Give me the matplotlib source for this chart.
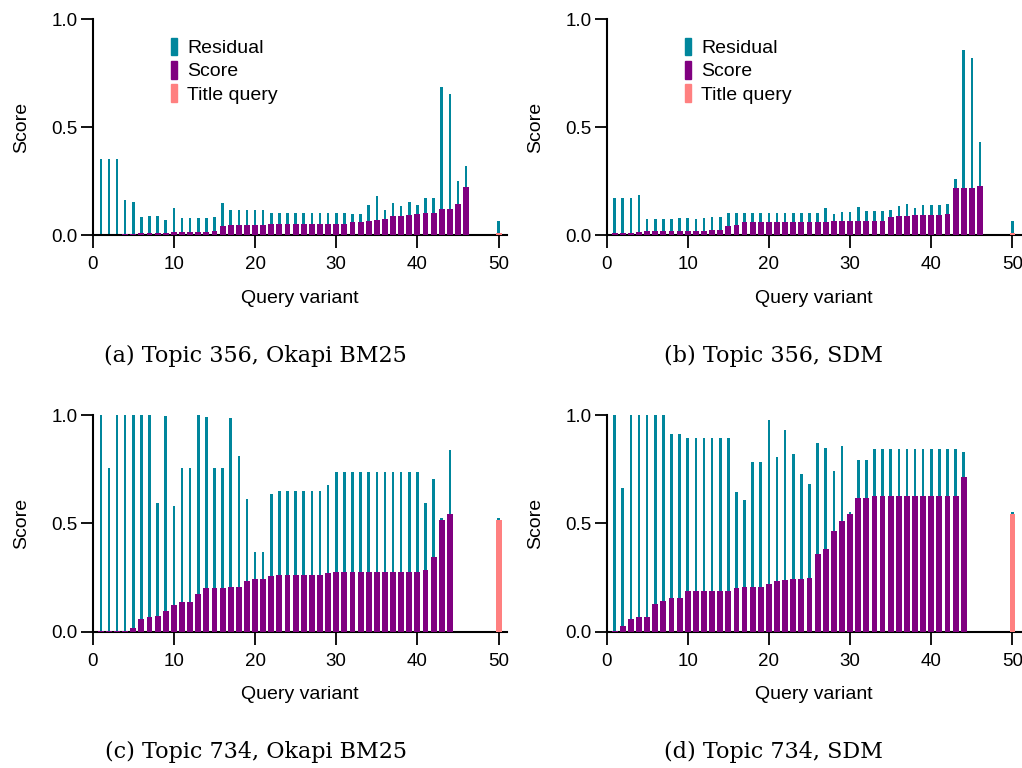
import matplotlib
matplotlib.use("Agg")
import matplotlib.pyplot as plt
from matplotlib.patches import Patch
import numpy as np

plt.rcParams['font.family'] = ['Liberation Sans', 'DejaVu Sans']

TEAL = '#00869c'
PURPLE = '#800080'
SALMON = '#ff8080'

# x positions of query variants
x_356 = list(range(1, 47))
x_734 = list(range(1, 45))
title_x = 50

# (a) Topic 356, Okapi BM25
score_a = [0.002, 0.002, 0.002, 0.006, 0.008, 0.011, 0.011, 0.011, 0.012, 0.017,
           0.017, 0.018, 0.018, 0.018, 0.020, 0.042, 0.050, 0.050, 0.050, 0.050,
           0.050, 0.053, 0.053, 0.053, 0.053, 0.053, 0.053, 0.053, 0.053, 0.053,
           0.053, 0.062, 0.062, 0.068, 0.071, 0.077, 0.088, 0.092, 0.096, 0.099,
           0.102, 0.102, 0.123, 0.123, 0.145, 0.223]
total_a = [0.355, 0.355, 0.355, 0.164, 0.153, 0.086, 0.090, 0.090, 0.073, 0.125,
           0.081, 0.081, 0.081, 0.081, 0.086, 0.148, 0.118, 0.118, 0.118, 0.118,
           0.118, 0.103, 0.103, 0.103, 0.103, 0.103, 0.103, 0.103, 0.103, 0.103,
           0.103, 0.099, 0.099, 0.140, 0.183, 0.116, 0.148, 0.134, 0.157, 0.143,
           0.171, 0.171, 0.687, 0.655, 0.254, 0.322]
title_a = (0.012, 0.068)

# (b) Topic 356, SDM
score_b = [0.012, 0.012, 0.012, 0.015, 0.020, 0.020, 0.020, 0.020, 0.020, 0.020,
           0.020, 0.022, 0.025, 0.026, 0.042, 0.049, 0.060, 0.060, 0.060, 0.060,
           0.060, 0.060, 0.060, 0.060, 0.060, 0.060, 0.063, 0.065, 0.068, 0.068,
           0.069, 0.069, 0.069, 0.069, 0.086, 0.089, 0.091, 0.094, 0.094, 0.094,
           0.096, 0.100, 0.218, 0.218, 0.218, 0.230]
total_b = [0.173, 0.173, 0.173, 0.188, 0.077, 0.077, 0.077, 0.077, 0.080, 0.080,
           0.075, 0.082, 0.086, 0.085, 0.102, 0.103, 0.103, 0.103, 0.103, 0.103,
           0.103, 0.103, 0.103, 0.103, 0.103, 0.103, 0.126, 0.100, 0.109, 0.109,
           0.131, 0.111, 0.111, 0.111, 0.120, 0.134, 0.145, 0.129, 0.140, 0.140,
           0.142, 0.146, 0.262, 0.860, 0.820, 0.431]
title_b = (0.012, 0.069)

# (c) Topic 734, Okapi BM25
score_c = [0.002, 0.002, 0.002, 0.002, 0.015, 0.060, 0.068, 0.071, 0.097, 0.125,
           0.138, 0.138, 0.172, 0.202, 0.203, 0.203, 0.205, 0.205, 0.232, 0.243,
           0.243, 0.258, 0.262, 0.262, 0.262, 0.262, 0.262, 0.262, 0.272, 0.275,
           0.275, 0.275, 0.275, 0.275, 0.275, 0.275, 0.275, 0.275, 0.275, 0.275,
           0.285, 0.345, 0.515, 0.543]
total_c = [1.000, 0.757, 1.000, 1.000, 1.000, 0.998, 0.998, 0.594, 0.995, 0.578,
           0.755, 0.755, 1.000, 0.992, 0.754, 0.754, 0.985, 0.809, 0.612, 0.368,
           0.368, 0.635, 0.651, 0.651, 0.651, 0.651, 0.651, 0.651, 0.677, 0.737,
           0.737, 0.737, 0.737, 0.737, 0.737, 0.737, 0.737, 0.737, 0.737, 0.737,
           0.595, 0.703, 0.523, 0.838]
title_c = (0.515, 0.523)

# (d) Topic 734, SDM
score_d = [0.002, 0.028, 0.060, 0.068, 0.068, 0.128, 0.140, 0.157, 0.157, 0.188,
           0.188, 0.188, 0.188, 0.188, 0.188, 0.203, 0.205, 0.206, 0.206, 0.218,
           0.235, 0.238, 0.245, 0.245, 0.248, 0.357, 0.380, 0.465, 0.509, 0.543,
           0.617, 0.617, 0.628, 0.628, 0.628, 0.628, 0.628, 0.628, 0.628, 0.628,
           0.628, 0.628, 0.628, 0.714]
total_d = [1.000, 0.662, 1.000, 1.000, 1.000, 1.000, 1.000, 0.914, 0.914, 0.895,
           0.895, 0.895, 0.895, 0.895, 0.895, 0.646, 0.609, 0.785, 0.785, 0.975,
           0.806, 0.929, 0.820, 0.729, 0.683, 0.871, 0.846, 0.743, 0.857, 0.554,
           0.794, 0.794, 0.842, 0.842, 0.842, 0.842, 0.842, 0.842, 0.842, 0.842,
           0.842, 0.842, 0.842, 0.828]
title_d = (0.543, 0.554)

captions = ['(a) Topic 356, Okapi BM25', '(b) Topic 356, SDM',
            '(c) Topic 734, Okapi BM25', '(d) Topic 734, SDM']

fig = plt.figure(figsize=(10.22, 7.68), dpi=100)

# axes rectangles in figure fraction
boxes = [(0.0907, 0.6934, 0.4051, 0.2815),
         (0.5935, 0.6934, 0.4051, 0.2815),
         (0.0907, 0.1775, 0.4051, 0.2821),
         (0.5935, 0.1775, 0.4051, 0.2821)]
panels = [(x_356, score_a, total_a, title_a),
          (x_356, score_b, total_b, title_b),
          (x_734, score_c, total_c, title_c),
          (x_734, score_d, total_d, title_d)]
cap_pos = [(0.25, 0.5365), (0.757, 0.5365), (0.25, 0.0215), (0.757, 0.0215)]

for i, (box, (xs, sc, tot, tq)) in enumerate(zip(boxes, panels)):
    ax = fig.add_axes(box)
    sc = np.array(sc)
    resid = np.array(tot) - sc
    ax.bar(xs, resid, bottom=sc, width=0.32, color=TEAL, linewidth=0, zorder=2)
    ax.bar(xs, sc, width=0.72, color=PURPLE, linewidth=0, zorder=3)
    ax.bar([title_x], [tq[1] - tq[0]], bottom=[tq[0]], width=0.32, color=TEAL,
           linewidth=0, zorder=2)
    ax.bar([title_x], [tq[0]], width=0.72, color=SALMON, linewidth=0, zorder=3)

    ax.set_xlim(0, 51)
    ax.set_ylim(0, 1.0)
    ax.set_xticks([0, 10, 20, 30, 40, 50])
    ax.set_yticks([0.0, 0.5, 1.0])
    ax.set_yticklabels(['0.0', '0.5', '1.0'])
    for s in ['top', 'right']:
        ax.spines[s].set_visible(False)
    for s in ['left', 'bottom']:
        ax.spines[s].set_linewidth(1.5)
    ax.tick_params(direction='out', length=9, width=1.3, labelsize=13.5)
    ax.tick_params(axis='y', pad=2)
    ax.tick_params(axis='x', pad=6)
    ax.set_xlabel('Query variant', fontsize=14, labelpad=12)
    ax.set_ylabel('Score', fontsize=14, labelpad=15)
    ax.spines['left'].set_zorder(5)

    if i < 2:
        handles = [Patch(color=TEAL), Patch(color=PURPLE), Patch(color=SALMON)]
        ax.legend(handles, ['Residual', 'Score', 'Title query'], loc='upper left',
                  bbox_to_anchor=(0.148, 0.995), frameon=False, fontsize=14,
                  handlelength=0.3, handleheight=1.0, handletextpad=0.5,
                  labelspacing=0.2)

    fig.text(cap_pos[i][0], cap_pos[i][1], captions[i], ha='center', va='center',
             fontsize=16, family='DejaVu Serif')

fig.savefig('out.png', dpi=100)
